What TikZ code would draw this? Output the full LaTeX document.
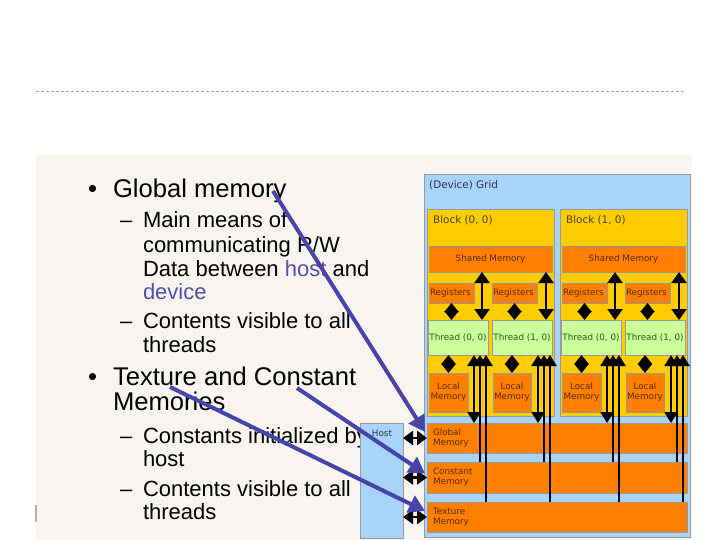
\documentclass[tikz,border=0pt]{standalone}
\usepackage{fontspec}
\setmainfont{Liberation Sans}
\newfontfamily\dfont{DejaVu Sans}
\usetikzlibrary{arrows.meta,calc}
\definecolor{gridblue}{RGB}{168,212,250}
\definecolor{blockyel}{RGB}{255,204,0}
\definecolor{memor}{RGB}{255,128,0}
\definecolor{thrgreen}{RGB}{204,255,153}
\definecolor{panelbg}{RGB}{248,245,241}
\definecolor{linkblue}{RGB}{70,70,170}
\definecolor{wordblue}{RGB}{80,80,170}
\definecolor{memtext}{RGB}{90,45,0}
\definecolor{thrtext}{RGB}{25,95,25}
\definecolor{blktext}{RGB}{70,70,30}
\definecolor{gridtext}{RGB}{40,50,80}
\tikzset{
  box/.style={draw=black!40, line width=0.5pt, inner sep=0pt, outer sep=0pt, anchor=north west},
  txt/.style={anchor=base west, inner sep=0pt, outer sep=0pt},
  maintxt/.style={txt, font=\fontsize{25.6pt}{28pt}\selectfont},
  subtxt/.style={txt, font=\fontsize{22pt}{24pt}\selectfont},
  lbl/.style={inner sep=0pt, outer sep=0pt, font=\dfont\fontsize{8.8pt}{10pt}\selectfont},
  biglbl/.style={anchor=west, inner sep=0pt, font=\dfont\fontsize{10.4pt}{12pt}\selectfont},
  dia/.style={line width=2pt, {Triangle[width=14pt,length=9pt]}-{Triangle[width=14pt,length=9pt]}},
  longarrow/.style={line width=2.4pt, {Triangle[width=15pt,length=11pt]}-{Triangle[width=15pt,length=11pt]}},
  rwarrow/.style={line width=2.2pt, {Triangle[width=13pt,length=11pt]}-{Triangle[width=13pt,length=11pt]}},
  roarrow/.style={line width=2.2pt, {Triangle[width=13pt,length=11pt]}-},
  hostarrow/.style={line width=2.5pt, {Triangle[width=14pt,length=10pt]}-{Triangle[width=14pt,length=10pt]}},
  bluearrow/.style={line width=4pt, draw=linkblue, -{Triangle[width=18pt,length=16pt]}},
}
\begin{document}
\begin{tikzpicture}[x=1pt,y=-1pt]
\fill[white] (0,0) rectangle (720,540);
\useasboundingbox (0,0) rectangle (720,540);
% header rule and panel
\draw[black!35, line width=0.7pt, dash pattern=on 3pt off 2pt] (36,91) -- (686,91);
\fill[panelbg] (36,155) rectangle (692,540);
\draw[gray!60, line width=1.5pt] (36,505) -- (36,522);
% bullet text
\node[maintxt] (b1) at (88,197) {•};
\node[maintxt] (t1) at (113,197) {Global memory};
\node[subtxt] (d1) at (120,228) {–};
\node[subtxt] (t2) at (143,228) {Main means of};
\node[subtxt] (t3) at (143,252) {communicating R/W};
\node[subtxt] (t4) at (143,276) {Data between \textcolor{wordblue}{host} and};
\node[subtxt] (t5) at (143,299) {\textcolor{wordblue}{device}};
\node[subtxt] (d2) at (120,328) {–};
\node[subtxt] (t6) at (143,328) {Contents visible to all};
\node[subtxt] (t7) at (143,352) {threads};
\node[maintxt] (b2) at (88,385) {•};
\node[maintxt] (t8) at (113,385) {Texture and Constant};
\node[maintxt] (t9) at (113,410) {Memories};
\node[subtxt] (d3) at (120,443) {–};
\node[subtxt] (t10) at (143,443) {Constants initialized by};
\node[subtxt] (t11) at (143,466) {host};
\node[subtxt] (d4) at (120,496) {–};
\node[subtxt] (t12) at (143,496) {Contents visible to all};
\node[subtxt] (t13) at (143,519) {threads};
% grid
\node[box, fill=gridblue, minimum width=266pt, minimum height=363pt] (grid) at (424,174) {};
\node[biglbl, text=gridtext] (gridl) at (429,185) {(Device) Grid};
\foreach \b/\dx in {0/0,1/133}{
  \node[box, fill=blockyel, minimum width=127pt, minimum height=207pt] (blk\b) at (427+\dx,209) {};
  \node[biglbl, text=blktext] (blkl\b) at (433+\dx,220) {Block (\b, 0)};
  \node[box, fill=memor, minimum width=123pt, minimum height=26pt] (sh\b) at (429+\dx,246) {};
  \node[lbl, text=memtext] (shl\b) at (sh\b.center) {Shared Memory};
  \node[box, fill=memor, minimum width=45pt, minimum height=20pt] (reg\b A) at (429+\dx,283) {};
  \node[box, fill=memor, minimum width=45pt, minimum height=20pt] (reg\b B) at (492+\dx,283) {};
  \node[box, fill=thrgreen, minimum width=60pt, minimum height=35pt] (thr\b A) at (428+\dx,320) {};
  \node[box, fill=thrgreen, minimum width=60pt, minimum height=35pt] (thr\b B) at (492+\dx,320) {};
  \node[box, fill=memor, minimum width=39pt, minimum height=39pt] (loc\b A) at (429+\dx,373) {};
  \node[box, fill=memor, minimum width=38pt, minimum height=39pt] (loc\b B) at (493+\dx,373) {};
  \node[lbl, text=thrtext] (thl\b A) at (thr\b A.center) {Thread (0, 0)};
  \node[lbl, text=thrtext] (thl\b B) at (thr\b B.center) {Thread (1, 0)};
  \foreach \t in {A,B}{
    \node[lbl, text=memtext, anchor=west] (rgl\b\t) at ($(reg\b\t.west)+(1,0)$) {Registers};
    \node[lbl, text=memtext, align=center] (lcl\b\t) at (loc\b\t.center) {Local\\Memory};
  }
}
% global memories
\node[box, fill=memor, minimum width=260pt, minimum height=30pt] (glob) at (427,423) {};
\node[box, fill=memor, minimum width=260pt, minimum height=31pt] (const) at (427,462) {};
\node[box, fill=memor, minimum width=260pt, minimum height=30pt] (tex) at (427,502) {};
\node[lbl, text=memtext, align=left, anchor=west] (globl) at ($(glob.west)+(6,0)$) {Global\\Memory};
\node[lbl, text=memtext, align=left, anchor=west] (constl) at ($(const.west)+(6,0)$) {Constant\\Memory};
\node[lbl, text=memtext, align=left, anchor=west] (texl) at ($(tex.west)+(6,0)$) {Texture\\Memory};
% host
\node[box, fill=gridblue, minimum width=43pt, minimum height=115pt] (host) at (360,423) {};
\node[lbl, text=gridtext] (hostl) at (382,433) {Host};
% arrows inside blocks
\foreach \b in {0,1}{
  \foreach \t in {A,B}{
    \draw[dia] (reg\b\t.south) -- (reg\b\t.south |- thr\b\t.north);
    \draw[dia] (loc\b\t.north) -- (loc\b\t.north |- thr\b\t.south);
    \coordinate (s\b\t) at ($(thr\b\t.north east)+(-6,0)$);
    \draw[longarrow] (s\b\t |- sh\b.south) -- (s\b\t);
    \coordinate (g\b\t) at ($(thr\b\t.south east)+(-14,0)$);
    \coordinate (c\b\t) at ($(thr\b\t.south east)+(-8,0)$);
    \coordinate (x\b\t) at ($(thr\b\t.south east)+(-2,0)$);
    \draw[roarrow] (c\b\t) -- (c\b\t |- const.north);
    \draw[roarrow] (x\b\t) -- (x\b\t |- tex.north);
    \draw[rwarrow] (g\b\t) -- (g\b\t |- glob.north);
  }
}
% host arrows
\draw[hostarrow] (host.east |- glob.west) -- (glob.west);
\draw[hostarrow] (host.east |- const.west) -- (const.west);
\draw[hostarrow] (host.east |- tex.west) -- (tex.west);
% blue pointer arrows
\coordinate (pg) at (273,191);
\coordinate (pc) at (297,388);
\coordinate (pt) at (170,387);
\draw[bluearrow] (pg) -- ($(glob.west)+(-2,-6)$);
\draw[bluearrow] (pc) -- ($(const.west)+(-2,-4)$);
\draw[bluearrow] (pt) -- ($(tex.west)+(-2,-6)$);
\end{tikzpicture}
\end{document}
